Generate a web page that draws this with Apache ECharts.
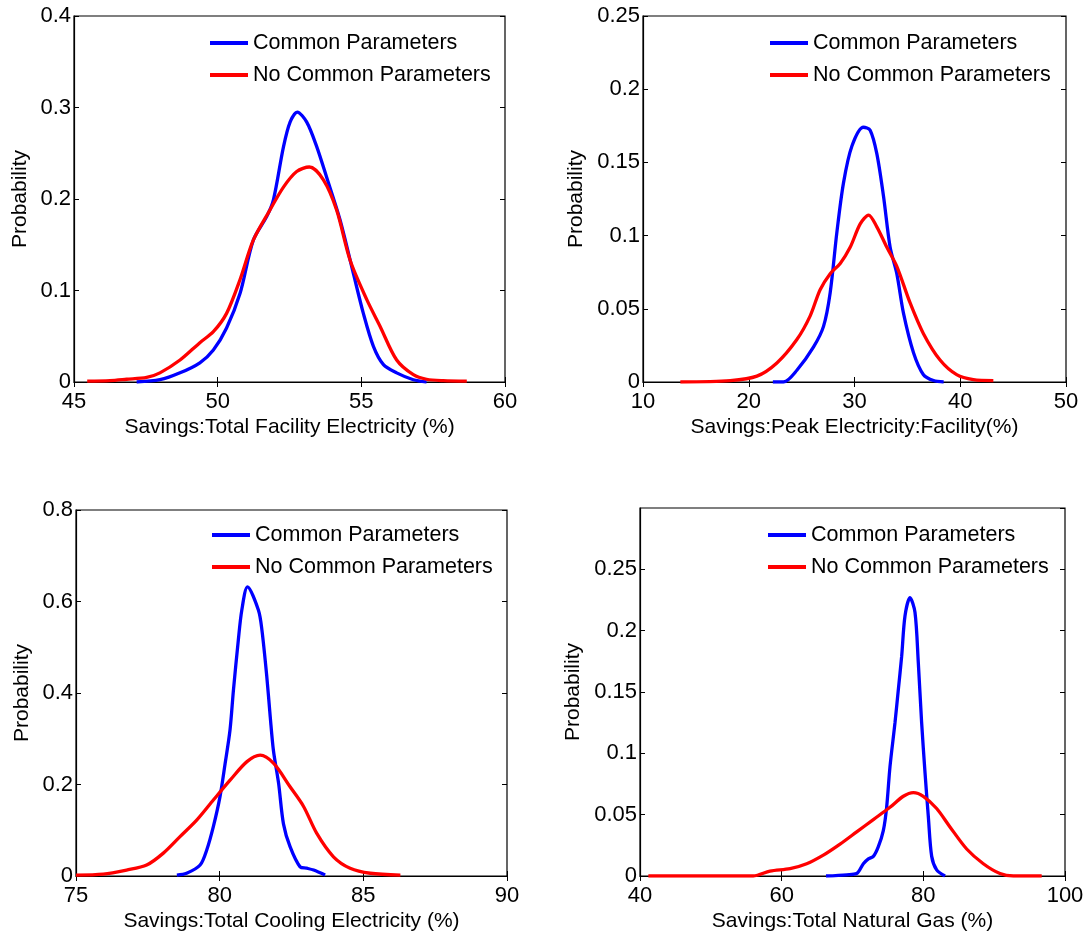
<!DOCTYPE html>
<html>
<head>
<meta charset="utf-8">
<script src="https://cdn.jsdelivr.net/npm/echarts@6/dist/echarts.min.js"></script>
<style>
  html, body { margin: 0; padding: 0; background: #fff; }
  #main { width: 1088px; height: 936px; }
</style>
</head>
<body>
<div id="main"></div>
<script>
// series names
const seriesNames = ['Common Parameters', 'No Common Parameters'];

// panel 1: total facility electricity
const facCommonX = [47.18, 47.99, 48.69, 49.38, 49.85, 50.31, 50.78, 51.24, 51.71, 51.94, 52.29, 52.52, 52.77, 53.10, 53.45, 53.79, 54.26, 54.72, 55.07, 55.42, 55.77, 56.23, 56.81, 57.27];
const facCommonY = [0, 0.0025, 0.010, 0.021, 0.035, 0.059, 0.097, 0.155, 0.181, 0.199, 0.257, 0.284, 0.295, 0.284, 0.257, 0.224, 0.177, 0.119, 0.075, 0.039, 0.019, 0.010, 0.0025, 0];
const facNoCommonX = [45.46, 46.25, 46.83, 47.53, 47.99, 48.69, 49.38, 49.85, 50.31, 50.78, 51.24, 51.82, 52.29, 52.75, 53.19, 53.68, 54.14, 54.61, 55.19, 55.65, 56.23, 56.81, 57.27, 57.85, 58.67];
const facNoCommonY = [0.001, 0.0015, 0.003, 0.005, 0.010, 0.024, 0.043, 0.055, 0.075, 0.112, 0.155, 0.188, 0.213, 0.230, 0.235, 0.221, 0.188, 0.133, 0.090, 0.061, 0.024, 0.008, 0.003, 0.0015, 0.001];

// panel 2: peak electricity facility
const peakCommonX = [22.28, 23.29, 24.55, 26.13, 27.07, 27.70, 28.33, 28.96, 29.75, 30.85, 31.48, 32.11, 32.74, 33.37, 34.00, 34.63, 35.58, 36.52, 37.47, 38.43];
const peakCommonY = [0, 0, 0.008, 0.024, 0.038, 0.061, 0.102, 0.136, 0.161, 0.174, 0.172, 0.156, 0.127, 0.092, 0.074, 0.047, 0.020, 0.005, 0.001, 0];
const peakNoCommonX = [13.53, 18.25, 20.77, 22.66, 24.55, 25.80, 26.75, 27.70, 28.65, 29.59, 30.54, 31.33, 32.11, 33.06, 34.00, 35.26, 36.52, 38.09, 39.66, 41.24, 43.13];
const peakNoCommonY = [0, 0.001, 0.004, 0.013, 0.029, 0.045, 0.063, 0.074, 0.081, 0.092, 0.108, 0.114, 0.106, 0.092, 0.079, 0.054, 0.033, 0.015, 0.005, 0.0016, 0.001];

// panel 3: total cooling electricity
const coolCommonX = [78.51, 78.85, 79.32, 79.55, 79.78, 80.01, 80.19, 80.36, 80.48, 80.65, 80.77, 80.97, 81.35, 81.47, 81.64, 81.76, 81.87, 82.05, 82.22, 82.45, 82.80, 83.03, 83.27, 83.67];
const coolCommonY = [0.002, 0.006, 0.024, 0.057, 0.108, 0.173, 0.246, 0.319, 0.407, 0.516, 0.581, 0.632, 0.581, 0.538, 0.436, 0.348, 0.275, 0.203, 0.114, 0.064, 0.020, 0.017, 0.013, 0.002];
const coolNoCommonX = [75.00, 75.95, 76.76, 77.46, 78.04, 78.62, 79.20, 79.78, 80.37, 80.95, 81.41, 81.88, 82.45, 82.92, 83.38, 83.96, 84.54, 85.24, 86.29];
const coolNoCommonY = [0.002, 0.004, 0.013, 0.024, 0.050, 0.086, 0.122, 0.166, 0.210, 0.250, 0.264, 0.246, 0.195, 0.152, 0.093, 0.042, 0.017, 0.006, 0.002];

// panel 4: total natural gas
const gasCommonX = [66.26, 69.18, 70.59, 71.53, 72.24, 72.94, 73.65, 74.35, 74.82, 75.29, 76.00, 76.47, 76.94, 77.41, 78.12, 78.82, 79.29, 79.76, 80.24, 80.71, 81.18, 81.88, 83.06];
const gasCommonY = [0, 0.001, 0.002, 0.010, 0.014, 0.016, 0.024, 0.037, 0.056, 0.089, 0.125, 0.152, 0.179, 0.212, 0.227, 0.215, 0.174, 0.125, 0.084, 0.048, 0.016, 0.005, 0];
const gasNoCommonX = [41.18, 56.00, 58.35, 61.18, 63.53, 65.88, 68.24, 70.59, 72.94, 75.29, 77.18, 78.59, 80.00, 81.88, 83.76, 86.12, 88.47, 90.82, 92.71, 96.71];
const gasNoCommonY = [0, 0, 0.004, 0.006, 0.010, 0.017, 0.026, 0.036, 0.046, 0.056, 0.065, 0.068, 0.065, 0.055, 0.040, 0.022, 0.010, 0.002, 0, 0];

const xTitles = ['Savings:Total Facility Electricity (%)', 'Savings:Peak Electricity:Facility(%)', 'Savings:Total Cooling Electricity (%)', 'Savings:Total Natural Gas (%)'];

const font = "'Liberation Sans', Arial, sans-serif";
const fs = 21;
const tickFs = 22;

const panels = [
  { grid: { left: 74, top: 16, width: 431, height: 366 }, x: [45, 60, 5], y: [0, 0.4, 0.1], yGap: 43, legend: [210, 32], data: [[facCommonX, facCommonY], [facNoCommonX, facNoCommonY]], hideMax: false },
  { grid: { left: 643, top: 16, width: 423, height: 366 }, x: [10, 50, 10], y: [0, 0.25, 0.05], yGap: 56, legend: [770, 32], data: [[peakCommonX, peakCommonY], [peakNoCommonX, peakNoCommonY]], hideMax: false },
  { grid: { left: 76, top: 510, width: 431, height: 366 }, x: [75, 90, 5], y: [0, 0.8, 0.2], yGap: 43, legend: [212, 524], data: [[coolCommonX, coolCommonY], [coolNoCommonX, coolNoCommonY]], hideMax: false },
  { grid: { left: 640, top: 508, width: 425, height: 368 }, x: [40, 100, 20], y: [0, 0.3, 0.05], yGap: 56, legend: [768, 524], data: [[gasCommonX, gasCommonY], [gasNoCommonX, gasNoCommonY]], hideMax: true }
];

const colors = ['#0000ff', '#ff0000'];

function pairs(xs, ys) {
  return xs.map((x, i) => [x, ys[i]]);
}

let grids = [], xAxes = [], yAxes = [], series = [], legends = [];

panels.forEach((p, i) => {
  grids.push(Object.assign({ show: true, borderColor: '#000', borderWidth: 1.2, backgroundColor: '#fff' }, p.grid));
  const tick = { show: true, inside: true, length: 5, lineStyle: { color: '#000' } };
  // main x axis
  xAxes.push({
    type: 'value', gridIndex: i, min: p.x[0], max: p.x[1], interval: p.x[2],
    position: 'bottom',
    name: xTitles[i], nameLocation: 'middle', nameGap: 35,
    nameTextStyle: { fontFamily: font, fontSize: fs, color: '#000' },
    axisLine: { show: true, lineStyle: { color: '#000', width: 1.2 } },
    axisTick: tick,
    axisLabel: { fontFamily: font, fontSize: tickFs, color: '#000', margin: 9 },
    splitLine: { show: false }
  });
  // mirrored top axis for ticks
  xAxes.push({
    type: 'value', gridIndex: i, min: p.x[0], max: p.x[1], interval: p.x[2],
    position: 'top',
    axisLine: { show: false }, axisTick: tick,
    axisLabel: { show: false }, splitLine: { show: false }
  });
  yAxes.push({
    type: 'value', gridIndex: i, min: p.y[0], max: p.y[1], interval: p.y[2],
    position: 'left',
    name: 'Probability', nameLocation: 'middle', nameGap: p.yGap,
    nameTextStyle: { fontFamily: font, fontSize: fs, color: '#000' },
    axisLine: { show: true, lineStyle: { color: '#000', width: 1.2 } },
    axisTick: tick,
    axisLabel: { fontFamily: font, fontSize: tickFs, color: '#000', margin: 3, showMaxLabel: !p.hideMax },
    splitLine: { show: false }
  });
  yAxes.push({
    type: 'value', gridIndex: i, min: p.y[0], max: p.y[1], interval: p.y[2],
    position: 'right',
    axisLine: { show: false }, axisTick: tick,
    axisLabel: { show: false }, splitLine: { show: false }
  });
  p.data.forEach((d, k) => {
    series.push({
      type: 'line', name: seriesNames[k],
      xAxisIndex: i * 2, yAxisIndex: i * 2,
      data: pairs(d[0], d[1]),
      showSymbol: false, symbol: 'none', smooth: 0.3,
      lineStyle: { color: colors[k], width: 3.3 },
      itemStyle: { color: colors[k] },
      animation: false
    });
  });
  legends.push({
    orient: 'vertical', left: p.legend[0], top: p.legend[1],
    data: seriesNames, icon: 'rect', itemWidth: 38, itemHeight: 4, itemGap: 10,
    padding: 0, selectedMode: false,
    textStyle: { fontFamily: font, fontSize: 21.5, color: '#000', padding: [0, 0, 0, 0] }
  });
});

let chart = echarts.init(document.getElementById('main'));
chart.setOption({
  backgroundColor: '#fff',
  animation: false,
  grid: grids,
  xAxis: xAxes,
  yAxis: yAxes,
  legend: legends,
  series: series
});
</script>
</body>
</html>
